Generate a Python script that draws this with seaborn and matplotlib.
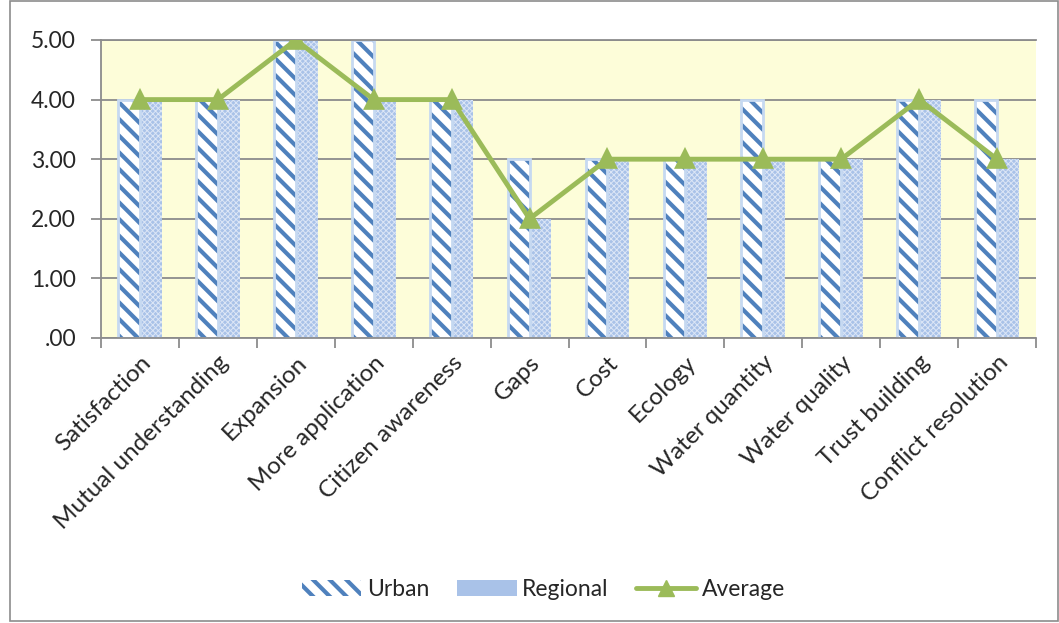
import matplotlib
matplotlib.use("Agg")
import matplotlib.pyplot as plt
from matplotlib.patches import Rectangle
from matplotlib.lines import Line2D
import seaborn as sns
import pandas as pd

categories = ["Satisfaction", "Mutual understanding", "Expansion", "More application",
              "Citizen awareness", "Gaps", "Cost", "Ecology", "Water quantity",
              "Water quality", "Trust building", "Conflict resolution"]
urban = [4, 4, 5, 5, 4, 3, 3, 3, 4, 3, 4, 4]
regional = [4, 4, 5, 4, 4, 2, 3, 3, 3, 3, 4, 3]
average = [4, 4, 5, 4, 4, 2, 3, 3, 3, 3, 4, 3]
y_ticks = [0, 1, 2, 3, 4, 5]
y_tick_labels = [".00", "1.00", "2.00", "3.00", "4.00", "5.00"]

sns.set_theme(style="white")
plt.rcParams["font.family"] = ["Lato", "DejaVu Sans"]
plt.rcParams["hatch.linewidth"] = 3.0

STRIPE = "#4F81BD"
EDGE = "#C6D9F1"
CHECK = "#A9C2E8"
GREEN = "#9BBB59"
GRID = "#8C8C8C"

bars = pd.DataFrame({
    "category": categories * 2,
    "series": ["Urban"] * len(categories) + ["Regional"] * len(categories),
    "value": urban + regional,
})

fig = plt.figure(figsize=(10.59, 6.23), dpi=100)
fig.patch.set_facecolor("white")
ax = fig.add_axes([0.0954, 0.4575, 0.8829, 0.4783])
ax.set_facecolor("#FDFDD9")

sns.barplot(data=bars, x="category", y="value", hue="series", order=categories,
            hue_order=["Urban", "Regional"], width=0.56, gap=0, ax=ax,
            legend=False, zorder=2)

n = len(categories)
for i, p in enumerate(ax.patches[:2 * n]):
    if i < n:
        # Urban: white bar with diagonal blue stripes and a pale outline
        p.set_facecolor("white")
        p.set_edgecolor(STRIPE)
        p.set_hatch("\\\\")
        p.set_linewidth(0)
        ax.add_patch(Rectangle((p.get_x(), p.get_y()), p.get_width(), p.get_height(),
                               fill=False, edgecolor=EDGE, linewidth=2, zorder=2.5))
    else:
        # Regional: fine light-blue check
        p.set_facecolor(CHECK)
        p.set_edgecolor("#DCE6F6")
        p.set_hatch("xxxxxx")
        if hasattr(p, "set_hatch_linewidth"):
            p.set_hatch_linewidth(0.7)
        p.set_linewidth(0)

sns.pointplot(x=categories, y=average, color=GREEN, markers="^", linewidth=3.5,
              markersize=11, ax=ax, zorder=5)
for c in ax.collections:
    c.set_zorder(5)
for l in ax.lines:
    l.set_zorder(5)

ax.set_ylim(0, 5)
ax.set_xlim(-0.5, n - 0.5)
ax.set_yticks(y_ticks)
ax.set_yticklabels(y_tick_labels, fontsize=16.5)
ax.yaxis.grid(True, color=GRID, linewidth=1.3, zorder=0)
ax.set_axisbelow(True)
ax.set_xticks([i + 0.5 for i in range(-1, n)], minor=True)
ax.set_xticks(range(n))
ax.set_xticklabels(categories, rotation=45, ha="right", rotation_mode="anchor",
                   fontsize=17.5)
ax.tick_params(axis="x", which="major", length=0, pad=10)
ax.tick_params(axis="x", which="minor", length=7, color=GRID, width=1.3,
               direction="out", bottom=True)
ax.tick_params(axis="y", length=7, color=GRID, width=1.3, direction="out",
               left=True, pad=11)
ax.set_xlabel("")
ax.set_ylabel("")
for s in ax.spines.values():
    s.set_color(GRID)
    s.set_linewidth(1.3)
ax.spines["right"].set_visible(False)

handles = [
    Rectangle((0, 0), 1, 1, facecolor="white", edgecolor=STRIPE, hatch="\\\\", linewidth=0),
    Rectangle((0, 0), 1, 1, facecolor=CHECK, edgecolor="#DCE6F6", linewidth=0),
    Line2D([], [], color=GREEN, linewidth=3.5, marker="^", markersize=11),
]
fig.legend(handles, ["Urban", "Regional", "Average"], loc="center",
           bbox_to_anchor=(0.513, 0.053), ncol=3, frameon=False, fontsize=16.5,
           handlelength=2.6, handletextpad=0.25, columnspacing=1.2)

fig.add_artist(Rectangle((0.009, 0.003), 0.99, 0.995, transform=fig.transFigure,
                         fill=False, edgecolor=GRID, linewidth=1.2))

fig.savefig("out.png", dpi=100)
